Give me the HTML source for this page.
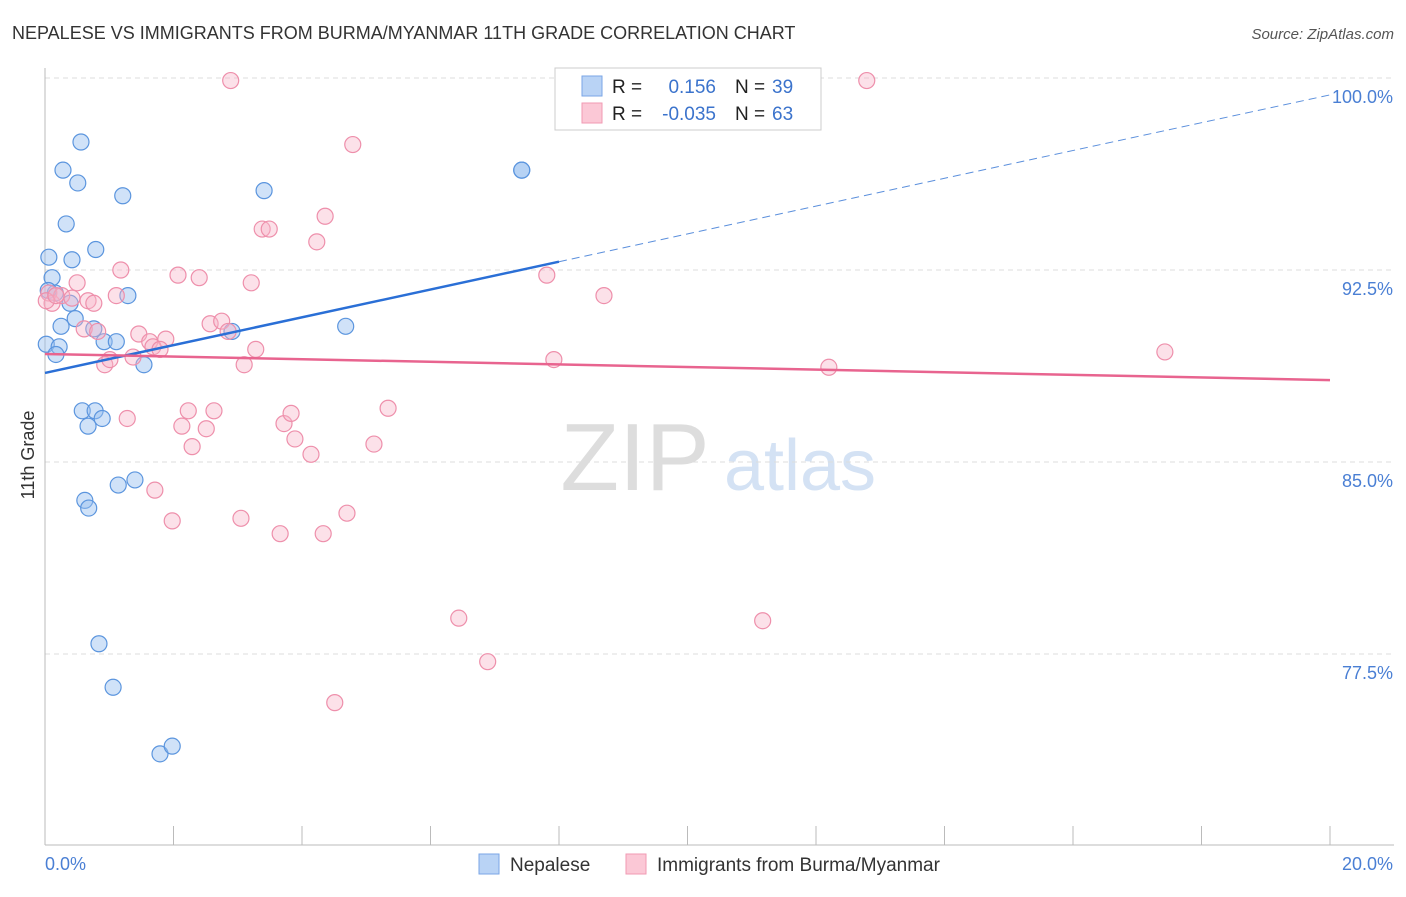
<!DOCTYPE html>
<html><head><meta charset="utf-8"><style>
body{margin:0;background:#fff;font-family:"Liberation Sans",sans-serif;}
svg text{font-family:"Liberation Sans",sans-serif;}
</style></head><body>
<svg id="chart" width="1406" height="892" xmlns="http://www.w3.org/2000/svg">
<text x="12" y="39" font-size="18" fill="#333">NEPALESE VS IMMIGRANTS FROM BURMA/MYANMAR 11TH GRADE CORRELATION CHART</text>
<text x="1394" y="39" font-size="15" fill="#555" font-style="italic" text-anchor="end">Source: ZipAtlas.com</text>
<g><text x="635" y="490" font-size="96" fill="#ddd" font-family="Liberation Serif" text-anchor="middle">ZIP</text><text x="800" y="490" font-size="72" fill="#d4e2f4" text-anchor="middle">atlas</text></g>
<g id="grid"></g><g id="axes"></g><g id="pts"></g><g id="trends"></g>
<text transform="translate(34,455) rotate(-90)" font-size="18" fill="#333" text-anchor="middle">11th Grade</text>
<text x="45" y="870" font-size="18" fill="#4a7fd4">0.0%</text>
<text x="1393" y="870" font-size="18" fill="#4a7fd4" text-anchor="end">20.0%</text>
<g>
<rect x="555" y="68" width="266" height="62" fill="#fff" stroke="#ccc"/>
<rect x="582" y="76" width="20" height="20" fill="#b9d3f5" stroke="#7aa6e6"/>
<rect x="582" y="103" width="20" height="20" fill="#fbc8d6" stroke="#f09ab3"/>
<text x="612" y="93" font-size="19" fill="#222">R =</text><text x="716" y="93" font-size="19" fill="#3b73cc" text-anchor="end">0.156</text>
<text x="735" y="93" font-size="19" fill="#222">N =</text><text x="772" y="93" font-size="19" fill="#3b73cc">39</text>
<text x="612" y="120" font-size="19" fill="#222">R =</text><text x="716" y="120" font-size="19" fill="#3b73cc" text-anchor="end">-0.035</text>
<text x="735" y="120" font-size="19" fill="#222">N =</text><text x="772" y="120" font-size="19" fill="#3b73cc">63</text>
</g>
<g>
<rect x="479" y="854" width="20" height="20" fill="#b9d3f5" stroke="#7aa6e6"/>
<text x="510" y="871" font-size="19" fill="#333">Nepalese</text>
<rect x="626" y="854" width="20" height="20" fill="#fbc8d6" stroke="#f09ab3"/>
<text x="657" y="871" font-size="19" fill="#333">Immigrants from Burma/Myanmar</text>
</g>
</svg>
<script>
const yTicks=[100,92.5,85,77.5];
const yTickLabels=["100.0%","92.5%","85.0%","77.5%"];
const xTicks=[0,2,4,6,8,10,12,14,16,18,20];
const blueX=[0.56,0.28,0.51,1.21,3.41,0.33,0.79,0.06,0.42,0.11,0.16,1.29,0.39,0.47,0.25,0.76,2.91,4.68,0.02,0.22,0.92,1.11,0.17,1.54,0.58,0.78,0.89,0.67,1.14,1.40,0.62,0.68,0.84,1.06,1.79,1.98,7.42,7.42,0.05];
const blueY=[97.5,96.4,95.9,95.4,95.6,94.3,93.3,93.0,92.9,92.2,91.6,91.5,91.2,90.6,90.3,90.2,90.1,90.3,89.6,89.5,89.7,89.7,89.2,88.8,87.0,87.0,86.7,86.4,84.1,84.3,83.5,83.2,77.9,76.2,73.6,73.9,96.4,96.4,91.7];
const pinkX=[2.89,12.79,4.79,4.36,3.38,3.49,4.23,2.07,2.40,3.21,1.18,0.50,7.81,8.70,0.06,0.11,0.26,0.42,0.67,0.76,1.11,0.61,0.82,2.57,2.75,2.85,1.46,1.63,1.88,1.68,1.79,1.37,0.93,1.01,3.10,3.28,7.92,12.20,17.43,1.28,2.23,2.63,2.13,2.51,2.29,3.72,3.83,3.89,4.14,5.12,5.34,1.71,1.98,3.05,3.66,4.33,4.70,6.44,6.89,4.51,11.17,0.02,0.17];
const pinkY=[99.9,99.9,97.4,94.6,94.1,94.1,93.6,92.3,92.2,92.0,92.5,92.0,92.3,91.5,91.6,91.2,91.5,91.4,91.3,91.2,91.5,90.2,90.1,90.4,90.5,90.1,90.0,89.7,89.8,89.5,89.4,89.1,88.8,89.0,88.8,89.4,89.0,88.7,89.3,86.7,87.0,87.0,86.4,86.3,85.6,86.5,86.9,85.9,85.3,85.7,87.1,83.9,82.7,82.8,82.2,82.2,83.0,78.9,77.2,75.6,78.8,91.3,91.5];
const blueTrend=[88.48,99.34]; const blueSolidEnd=8;
const pinkTrend=[89.22,88.2];
const X=v=>45+v*64.25, Y=v=>78+(100-v)*25.6;
const NS="http://www.w3.org/2000/svg";
function mk(p,t,a){const e=document.createElementNS(NS,t);for(const k in a)e.setAttribute(k,a[k]);p.appendChild(e);return e;}
const grid=document.getElementById('grid'),axes=document.getElementById('axes');
yTicks.forEach((t,i)=>{const g=mk(grid,'line',{x1:45,x2:1394,y1:Y(t),y2:Y(t),stroke:'#ddd','stroke-dasharray':'5,4'});


const l=mk(axes,'text',{x:1393,y:Y(t)+25,'font-size':18,fill:'#4a7fd4','text-anchor':'end'});l.textContent=yTickLabels[i];

});
const ax=mk(axes,'line',{x1:45,x2:45,y1:68,y2:845,stroke:'#bbb'});


const bx=mk(axes,'line',{x1:45,x2:1394,y1:845,y2:845,stroke:'#bbb'});


xTicks.forEach(t=>{const k=mk(axes,'line',{x1:X(t),x2:X(t),y1:826,y2:845,stroke:'#bbb'});

});
const pts=document.getElementById('pts');
blueX.forEach((v,i)=>{const c=mk(pts,'circle',{cx:X(v),cy:Y(blueY[i]),r:8,fill:'rgba(150,190,240,0.45)',stroke:'#5b95de','stroke-width':1.2});

});
pinkX.forEach((v,i)=>{const c=mk(pts,'circle',{cx:X(v),cy:Y(pinkY[i]),r:8,fill:'rgba(248,180,200,0.4)',stroke:'#ee8fab','stroke-width':1.2});

});
const tr=document.getElementById('trends');
const bAt=x=>blueTrend[0]+(blueTrend[1]-blueTrend[0])*x/20;
const b1=mk(tr,'line',{x1:X(0),y1:Y(bAt(0)),x2:X(blueSolidEnd),y2:Y(bAt(blueSolidEnd)),stroke:'#2a6fd6','stroke-width':2.5});


const b2=mk(tr,'line',{x1:X(blueSolidEnd),y1:Y(bAt(blueSolidEnd)),x2:X(20),y2:Y(bAt(20)),stroke:'#5b8fdc','stroke-width':1,'stroke-dasharray':'8,5'});


const p1=mk(tr,'line',{x1:X(0),y1:Y(pinkTrend[0]),x2:X(20),y2:Y(pinkTrend[1]),stroke:'#e8648f','stroke-width':2.5});


</script>
</body></html>
